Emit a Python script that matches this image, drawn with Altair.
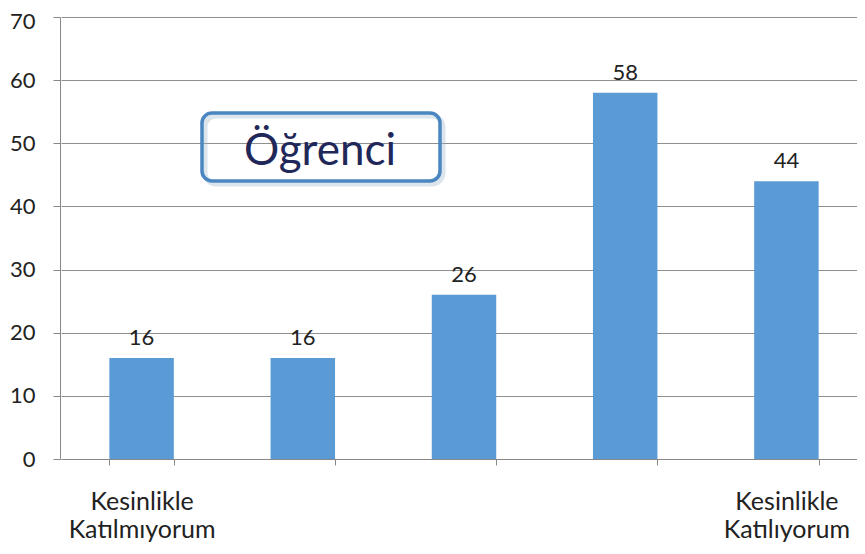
import json
import altair as alt
import pandas as pd

categories = ["Kesinlikle Katılmıyorum", "Katılmıyorum", "Kararsızım", "Katılıyorum", "Kesinlikle Katılıyorum"]
values = [16, 16, 26, 58, 44]
shown_labels = ["Kesinlikle Katılmıyorum", "Kesinlikle Katılıyorum"]
y_ticks = [0, 10, 20, 30, 40, 50, 60, 70]
box_title = ["Öğrenci"]

df = pd.DataFrame({"cat": categories, "val": values})
FONT = "Lato"

label_expr = (
    "indexof(" + json.dumps(shown_labels, ensure_ascii=False) + ", datum.value) >= 0 ? "
    "split(datum.value, ' ') : ''"
)

x_enc = alt.X(
    "cat:N",
    sort=categories,
    scale=alt.Scale(paddingInner=0.6, paddingOuter=0.3, range=[1, 807]),
    axis=alt.Axis(
        title=None, labelAngle=0, labelExpr=label_expr, labelFont=FONT,
        labelFontSize=25, labelColor="#222222", labelPadding=24,
        labelLineHeight=28, labelBaseline="top",
        tickBand="extent", tickSize=6, tickColor="#888888",
        domainColor="#888888", grid=False,
    ),
)
y_enc = alt.Y(
    "val:Q",
    scale=alt.Scale(domain=[0, 70], nice=False),
    axis=alt.Axis(
        title=None, values=y_ticks, labelFont=FONT, labelFontSize=22,
        labelColor="#222222", labelPadding=18, tickSize=7, tickColor="#888888",
        domainColor="#888888", gridColor="#8f8f8f", gridWidth=1.2, grid=True,
        labelOffset={"condition": {"test": "datum.value == 70", "value": 4}, "value": 0},
    ),
)

bars = alt.Chart(df).mark_bar(color="#5b9bd5").encode(x=x_enc, y=y_enc)
texts = alt.Chart(df).mark_text(
    font=FONT, fontSize=22, color="#222222", baseline="alphabetic", dy=-13
).encode(x=alt.X("cat:N", sort=categories), y="val:Q", text="val:Q")

tdf = pd.DataFrame({"t": box_title})
shadow = alt.Chart(tdf).mark_rect(
    fill=None, stroke="#9fb4c8", strokeWidth=5, strokeOpacity=0.35, cornerRadius=11
).encode(x=alt.value(145), x2=alt.value(383), y=alt.value(99), y2=alt.value(167))
box = alt.Chart(tdf).mark_rect(
    fill=None, stroke="#4a86c0", strokeWidth=3.5, cornerRadius=10
).encode(x=alt.value(142), x2=alt.value(380), y=alt.value(96), y2=alt.value(164))
box_text = alt.Chart(tdf).mark_text(
    font=FONT, fontSize=44, color="#1f2858", baseline="alphabetic", align="center"
).encode(x=alt.value(260), y=alt.value(148), text="t:N")

chart = (
    alt.layer(bars, texts, shadow, box, box_text)
    .properties(
        width=797, height=442,
        autosize=alt.AutoSizeParams(type="none"),
        padding={"left": 52, "top": 9, "right": 0, "bottom": 87},
        background="white",
    )
    .configure_view(stroke=None)
)

chart.save("out.html", embed_options={"renderer": "svg", "actions": False})
